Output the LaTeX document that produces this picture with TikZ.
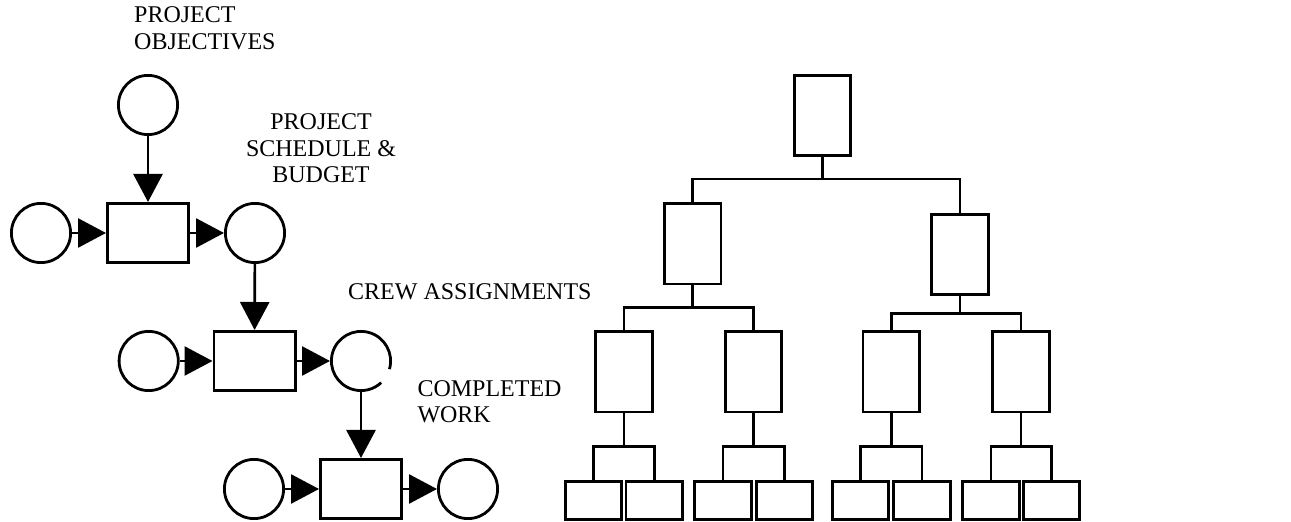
\documentclass[tikz,border=0pt]{standalone}
\usepackage{fontspec}
\setmainfont{Liberation Serif}
\usetikzlibrary{arrows.meta}
\begin{document}
\begin{tikzpicture}[x=1pt,y=1pt,
 place/.style={circle,draw,line width=2.8pt,minimum size=59.2pt,inner sep=0pt},
 trans/.style={rectangle,draw,line width=2.8pt,minimum width=81.2pt,minimum height=59.2pt,inner sep=0pt},
 arr/.style={line width=2.7pt,-{Triangle[length=28pt,width=29pt]}},
 lbl/.style={font=\fontsize{24}{26.7}\selectfont,inner sep=0pt},
 tbox/.style={rectangle,draw,line width=2.8pt,minimum width=56.7pt,minimum height=80.2pt,inner sep=0pt},
 lbox/.style={tbox,minimum height=37.9pt},
 link/.style={line width=2.5pt}]
\useasboundingbox (0,0) rectangle (1291,522);

% ---- left: net ----
\node[place] (c0) at (148,417) {};
\node[trans] (b1) at (148,289) {};
\node[place] (c1L) at (41,289) {};
\node[place] (c1R) at (255,289) {};
\node[trans] (b2) at (254.5,161) {};
\node[place] (c2L) at (148.7,161) {};
\node[place,draw=none] (c2R) at (361,161) {};
\draw[line width=2.8pt] ([shift={(-16:29.6)}]c2R.center) arc[start angle=-16,end angle=313,radius=29.6];
\node[trans] (b3) at (361,33) {};
\node[place] (c3L) at (254,33) {};
\node[place] (c3R) at (468,33) {};

\draw[arr] (c0) -- (b1);
\draw[arr] (c1L) -- (b1);
\draw[arr] (b1) -- (c1R);
\draw[arr] (c1R) -- (b2);
\draw[arr] (c2L) -- (b2);
\draw[arr] (b2) -- (c2R);
\draw[arr] (c2R) -- (b3);
\draw[arr] (c3L) -- (b3);
\draw[arr] (b3) -- (c3R);

\node[lbl,align=left,anchor=north west] (t1) at (134,515.3) {PROJECT\\OBJECTIVES};
\node[lbl,align=center,anchor=north] (t2) at (321,408.7) {PROJECT\\SCHEDULE \&\\BUDGET};
\node[lbl,anchor=north west] (t3) at (348,239) {CREW ASSIGNMENTS};
\node[lbl,align=left,anchor=north west] (t4) at (417.3,142) {COMPLETED\\WORK};

% ---- right: tree ----
\node[tbox] (T) at (822.5,406.3) {};
\node[tbox] (ML) at (692.7,278) {};
\node[tbox] (MR) at (960,267.5) {};
\node[tbox] (A) at (624.2,150) {};
\node[tbox] (B) at (753.5,150) {};
\node[tbox] (C) at (891.3,150) {};
\node[tbox] (D) at (1021.2,150) {};
\node[lbox] (A1) at (593.5,21.7) {};
\node[lbox] (A2) at (654.3,21.7) {};
\node[lbox] (B1) at (723.2,21.7) {};
\node[lbox] (B2) at (784.5,21.7) {};
\node[lbox] (C1) at (860.5,21.7) {};
\node[lbox] (C2) at (921.8,21.7) {};
\node[lbox] (D1) at (990.8,21.7) {};
\node[lbox] (D2) at (1051.5,21.7) {};

\draw[link] (T.south) -- ++(0,-21.7) coordinate (jT);
\draw[link] (ML.north) |- (jT) -| (MR.north);
\draw[link] (ML.south) -- ++(0,-21.8) coordinate (jML);
\draw[link] (A.north) |- (jML) -| (B.north);
\draw[link] (MR.south) -- ++(0,-17.6) coordinate (jMR);
\draw[link] (C.north) |- (jMR) -| (D.north);
\draw[link] (A.south) -- ++(0,-33) coordinate (jA);
\draw[link] (A1.north) |- (jA) -| (A2.north);
\draw[link] (B.south) -- ++(0,-33) coordinate (jB);
\draw[link] (B1.north) |- (jB) -| (B2.north);
\draw[link] (C.south) -- ++(0,-33) coordinate (jC);
\draw[link] (C1.north) |- (jC) -| (C2.north);
\draw[link] (D.south) -- ++(0,-33) coordinate (jD);
\draw[link] (D1.north) |- (jD) -| (D2.north);
\end{tikzpicture}
\end{document}
